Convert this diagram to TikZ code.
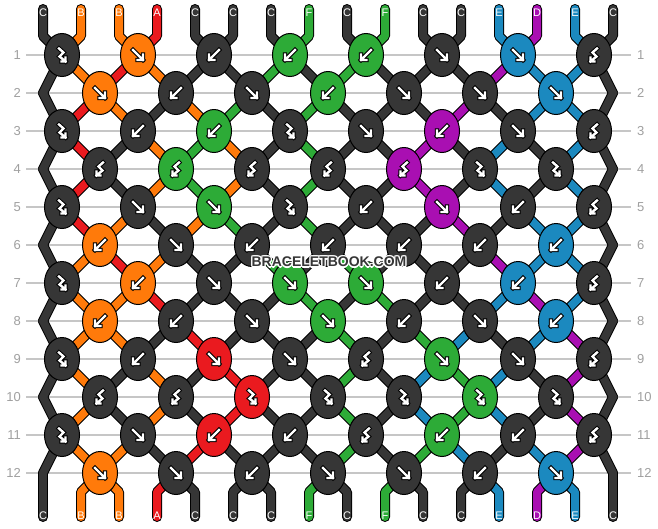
\documentclass[tikz,border=0pt]{standalone}
\usepackage{fontspec}
\setmainfont{Liberation Sans}
\usetikzlibrary{shapes.geometric}

\definecolor{strC}{HTML}{363636}
\definecolor{strB}{HTML}{FF7A0A}
\definecolor{strA}{HTML}{EA1A1F}
\definecolor{strF}{HTML}{2DAB37}
\definecolor{strE}{HTML}{1B89BF}
\definecolor{strD}{HTML}{A90FB2}
\definecolor{gridgray}{HTML}{C6C6C6}
\definecolor{numgray}{HTML}{A0A0A0}

\tikzset{
  KnotNode/.style={ellipse, draw=black, line width=1pt, minimum width=35pt,
    minimum height=43pt, inner sep=0pt, fill=str#1},
  ThreadEdge/.style={line width=10pt, line cap=round, line join=round, draw=black},
  ThreadFill/.style={line width=8pt, line cap=round, line join=round, draw=str#1},
  RowLine/.style={gridgray, line width=1.5pt},
  RowNum/.style={numgray, inner sep=0pt, font=\fontsize{13}{13}\selectfont},
  EndLabel/.style={white, inner sep=0pt, font=\fontsize{11}{11}\selectfont},
  ArrowLine/.style={line cap=rect, line join=miter},
  MarkText/.style={font=\bfseries\fontsize{14}{14}\selectfont}
}

% colour on every position after each row (row 0 = start)
\newcommand{\threadrows}{%
  {C,B,B,A,C,C,C,F,C,F,C,C,E,D,E,C},%
  {C,B,A,B,C,C,F,C,F,C,C,C,D,E,E,C},%
  {C,A,B,C,B,F,C,F,C,C,C,D,C,E,E,C},%
  {C,A,C,B,F,B,C,F,C,C,D,C,E,C,E,C},%
  {C,A,C,B,F,B,C,F,C,C,D,C,E,C,E,C},%
  {C,A,B,C,B,F,C,F,C,C,C,D,C,E,E,C},%
  {C,B,A,B,C,C,F,C,F,C,C,C,D,E,E,C},%
  {C,B,B,A,C,C,C,F,C,F,C,C,E,D,E,C},%
  {C,B,B,C,A,C,C,C,F,C,F,E,C,E,D,C},%
  {C,B,C,B,C,A,C,C,F,C,E,F,E,C,D,C},%
  {C,B,C,B,C,A,C,C,F,C,E,F,E,C,D,C},%
  {C,B,B,C,A,C,C,C,F,C,F,E,C,E,D,C},%
  {C,B,B,A,C,C,C,F,C,F,C,C,E,D,E,C}}

% knot type / knot colour, row by row
\newcommand{\knotrows}{%
  {FB/C,F/B,B/C,B/F,B/F,F/C,F/E,BF/C},%
  {F/B,B/C,F/C,B/F,F/C,F/C,F/E},%
  {FB/C,B/C,B/F,FB/C,F/C,B/D,F/C,BF/C},%
  {BF/C,BF/F,BF/C,BF/C,BF/D,FB/C,FB/C},%
  {FB/C,F/C,F/F,FB/C,B/C,F/D,B/C,BF/C},%
  {B/B,F/C,B/C,B/C,B/C,B/C,B/E},%
  {FB/C,B/B,F/C,F/F,F/F,B/C,B/E,BF/C},%
  {B/B,B/C,F/C,F/F,B/C,F/C,B/E},%
  {FB/C,B/C,F/A,F/C,BF/C,F/F,F/C,BF/C},%
  {BF/C,BF/C,FB/A,FB/C,FB/C,FB/F,FB/C},%
  {FB/C,F/C,B/A,B/C,BF/C,B/F,B/C,BF/C},%
  {F/B,F/C,B/C,F/C,F/C,B/C,F/E}}

\newcommand{\threadpass}[1]{%
  \foreach \st [count=\r from 0] in \threadrows {%
    \pgfmathtruncatemacro\nr{\r+1}%
    \foreach \c [count=\p from 0] in \st {%
      \ifnum\r=0 \draw[#1] (tt\p) -- (s0-\p) -- (s1-\p);%
      \else\ifnum\r=12 \draw[#1] (s12-\p) -- (s13-\p) -- (bb\p);%
      \else \draw[#1] (s\r-\p) -- (s\nr-\p);\fi\fi
    }%
  }}

% knot arrows
\newcommand{\ArrF}{\foreach \aw/\ac in {4.4/black,2.4/white}
  {\draw[ArrowLine, line width=\aw pt, \ac] (-5,-5) -- (5,5) (-0.5,5) -- (5,5) -- (5,-0.5);}}
\newcommand{\ArrB}{\foreach \aw/\ac in {4.4/black,2.4/white}
  {\draw[ArrowLine, line width=\aw pt, \ac] (5,-5) -- (-5,5) (0.5,5) -- (-5,5) -- (-5,-0.5);}}
\newcommand{\ArrFB}{\foreach \aw/\ac in {4.4/black,2.4/white}
  {\draw[ArrowLine, line width=\aw pt, \ac] (-3,-6.5) -- (1.5,-2.5) -- (-2.5,1.5) -- (3.5,6.5)
     (-0.5,6.5) -- (3.5,6.5) -- (3.5,2.5);}}
\newcommand{\ArrBF}{\foreach \aw/\ac in {4.4/black,2.4/white}
  {\draw[ArrowLine, line width=\aw pt, \ac] (3,-6.5) -- (-1.5,-2.5) -- (2.5,1.5) -- (-3.5,6.5)
     (0.5,6.5) -- (-3.5,6.5) -- (-3.5,2.5);}}

\begin{document}
\begin{tikzpicture}[x=1pt, y=-1pt,
    declare function={kx(\r,\p)=ifthenelse(mod(\r,2)==1, 62+76*floor(\p/2),
      ifthenelse(\p==0, 43, ifthenelse(\p==15, 613, 100+76*floor((\p-1)/2))));}]
  \path[fill=white, use as bounding box] (0,0) rectangle (658,528);

  % rows and their numbers
  \foreach \r in {1,...,12} {
    \pgfmathsetmacro\ry{55+38*(\r-1)}
    \draw[RowLine] (26,\ry) -- (631,\ry);
    \node[RowNum, anchor=east] (ln\r) at (21,\ry) {\r};
    \node[RowNum, anchor=west] (rn\r) at (637,\ry) {\r};
  }

  % where every position sits in every row
  \foreach \p in {0,...,15} {
    \coordinate (tt\p) at (43+38*\p,9);
    \coordinate (s0-\p) at (43+38*\p,36);
    \coordinate (s13-\p) at (43+38*\p,492);
    \coordinate (bb\p) at (43+38*\p,517);
    \foreach \r in {1,...,12}
      \coordinate (s\r-\p) at ({kx(\r,\p)},{55+38*(\r-1)});
  }

  % threads
  \threadpass{ThreadEdge}
  \threadpass{ThreadFill=\c}

  % knots
  \foreach \kl [count=\r] in \knotrows {
    \foreach \ty/\kc [count=\k from 0] in \kl {
      \pgfmathtruncatemacro\pp{ifthenelse(mod(\r,2)==1, 2*\k, 2*\k+1)}
      \node[KnotNode=\kc] (k\r-\k) at (s\r-\pp) {};
      \begin{scope}[shift={(k\r-\k)}]
        \csname Arr\ty\endcsname
      \end{scope}
    }
  }

  % thread letters
  \foreach \c [count=\p from 0] in {C,B,B,A,C,C,C,F,C,F,C,C,E,D,E,C} {
    \node[EndLabel] (top\p) at (43+38*\p,13) {\c};
    \node[EndLabel] (bot\p) at (43+38*\p,516) {\c};
  }

  % watermark, with a white halo
  \foreach \dx/\dy in {-1.2/0,1.2/0,0/-1.2,0/1.2,-1/-1,1/1,-1/1,1/-1}
    \node[MarkText, white] at (329+\dx,262+\dy) {BRACELETBOOK.COM};
  \node[MarkText, strC] (wm) at (329,262) {BRACELETBOOK.COM};
\end{tikzpicture}
\end{document}
